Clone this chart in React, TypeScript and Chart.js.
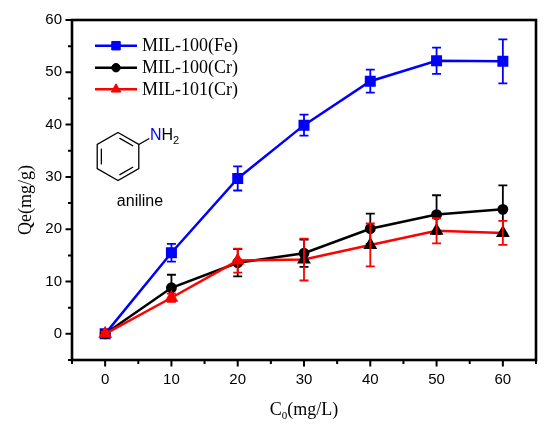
import React, { useEffect, useRef } from "react";
import { Chart, registerables } from "chart.js";
import { drawPoint } from "chart.js/helpers";

Chart.register(...registerables);

// concentrations (mg/L)
const concentrations = [0, 10, 20, 30, 40, 50, 60];

// adsorption capacities Qe (mg/g) and their error bars
const fe100 = [0, 15.5, 29.7, 39.9, 48.3, 52.2, 52.1];
const fe100Err = [0.4, 1.7, 2.3, 2.0, 2.2, 2.5, 4.2];
const cr100 = [0, 8.8, 13.6, 15.4, 20.1, 22.8, 23.8];
const cr100Err = [0.4, 2.5, 2.6, 2.6, 2.9, 3.7, 4.6];
const cr101 = [0, 6.9, 14.0, 14.2, 17.0, 19.7, 19.3];
const cr101Err = [0.4, 0.8, 2.3, 4.0, 4.1, 2.4, 2.3];

const seriesNames = ["MIL-100(Fe)", "MIL-100(Cr)", "MIL-101(Cr)"];

const SANS = "'Liberation Sans', Arial, sans-serif";
const SERIF = "'Liberation Serif', 'Times New Roman', serif";

const errorSets: number[][] = [fe100Err, cr100Err, cr101Err];

const errorBars = {
  id: "errorBars",
  afterDatasetDraw(chart: any, args: any) {
    const i = args.index;
    const errs = errorSets[i];
    if (!errs) return;
    const ds = chart.data.datasets[i];
    const { ctx, scales } = chart;
    ctx.save();
    ctx.strokeStyle = ds.borderColor;
    ctx.lineWidth = 1.8;
    ds.data.forEach((p: any, k: number) => {
      const x = scales.x.getPixelForValue(p.x);
      const yTop = scales.y.getPixelForValue(p.y + errs[k]);
      const yBot = scales.y.getPixelForValue(p.y - errs[k]);
      ctx.beginPath();
      ctx.moveTo(x, yTop);
      ctx.lineTo(x, yBot);
      ctx.moveTo(x - 4.5, yTop);
      ctx.lineTo(x + 4.5, yTop);
      ctx.moveTo(x - 4.5, yBot);
      ctx.lineTo(x + 4.5, yBot);
      ctx.stroke();
    });
    ctx.restore();
  },
};

const frameAndDecor = {
  id: "frameAndDecor",
  beforeDatasetsDraw(chart: any) {
    const { ctx, chartArea: a, scales } = chart;
    ctx.save();
    ctx.strokeStyle = "#000";
    ctx.lineWidth = 2.6;
    ctx.strokeRect(a.left, a.top, a.right - a.left, a.bottom - a.top);
    ctx.lineWidth = 2;
    ctx.beginPath();
    scales.x.ticks.forEach((t: any) => {
      const x = scales.x.getPixelForValue(t.value);
      const len = t.value % 10 === 0 ? 6.5 : 4;
      ctx.moveTo(x, a.bottom);
      ctx.lineTo(x, a.bottom + len);
    });
    scales.y.ticks.forEach((t: any) => {
      const y = scales.y.getPixelForValue(t.value);
      const len = t.value % 10 === 0 ? 6.5 : 4;
      ctx.moveTo(a.left, y);
      ctx.lineTo(a.left - len, y);
    });
    ctx.stroke();
    ctx.restore();
  },
  afterDraw(chart: any) {
    const { ctx, chartArea: a } = chart;
    ctx.save();
    ctx.fillStyle = "#000";

    // axis titles
    ctx.font = `18px ${SERIF}`;
    ctx.textBaseline = "alphabetic";
    const cx = (a.left + a.right) / 2;
    const wC = ctx.measureText("C").width;
    const wRest = ctx.measureText("(mg/L)").width;
    ctx.font = `11px ${SERIF}`;
    const w0 = ctx.measureText("0").width;
    const x0 = cx - (wC + w0 + wRest) / 2;
    ctx.font = `18px ${SERIF}`;
    ctx.textAlign = "left";
    ctx.fillText("C", x0, 415);
    ctx.font = `11px ${SERIF}`;
    ctx.fillText("0", x0 + wC, 419);
    ctx.font = `18px ${SERIF}`;
    ctx.fillText("(mg/L)", x0 + wC + w0, 415);

    ctx.save();
    ctx.translate(31, 200);
    ctx.rotate(-Math.PI / 2);
    ctx.textAlign = "center";
    ctx.fillText("Qe(mg/g)", 0, 0);
    ctx.restore();

    // legend
    const rows = [45.7, 67.7, 89.3];
    chart.data.datasets.forEach((ds: any, i: number) => {
      const y = rows[i];
      ctx.strokeStyle = ds.borderColor;
      ctx.fillStyle = ds.borderColor;
      ctx.lineWidth = 2.5;
      ctx.beginPath();
      ctx.moveTo(95, y);
      ctx.lineTo(137, y);
      ctx.stroke();
      ctx.lineWidth = 1;
      drawPoint(ctx, { pointStyle: ds.pointStyle, radius: ds.pointRadius, borderWidth: 1, rotation: 0 }, 116, y);
      ctx.fillStyle = "#000";
      ctx.font = `18px ${SERIF}`;
      ctx.textAlign = "left";
      ctx.textBaseline = "middle";
      ctx.fillText(seriesNames[i], 142, y + 1);
    });

    // aniline structure
    const hx = 118;
    const hy = 156.5;
    const r = 24;
    const v = [-90, -30, 30, 90, 150, 210].map((d) => {
      const rad = (d * Math.PI) / 180;
      return [hx + r * Math.cos(rad), hy + r * Math.sin(rad)];
    });
    ctx.strokeStyle = "#000";
    ctx.lineWidth = 1.3;
    ctx.beginPath();
    v.forEach((p, k) => (k === 0 ? ctx.moveTo(p[0], p[1]) : ctx.lineTo(p[0], p[1])));
    ctx.closePath();
    ctx.stroke();
    const inner = (p: number[], q: number[]) => {
      const mx = (p[0] + q[0]) / 2;
      const my = (p[1] + q[1]) / 2;
      const ix = hx + (mx - hx) * 0.8;
      const iy = hy + (my - hy) * 0.8;
      const dx = ((q[0] - p[0]) / 2) * 0.66;
      const dy = ((q[1] - p[1]) / 2) * 0.66;
      ctx.beginPath();
      ctx.moveTo(ix - dx, iy - dy);
      ctx.lineTo(ix + dx, iy + dy);
      ctx.stroke();
    };
    inner(v[0], v[1]);
    inner(v[2], v[3]);
    inner(v[4], v[5]);
    ctx.beginPath();
    ctx.moveTo(v[1][0], v[1][1]);
    ctx.lineTo(v[1][0] + 10.5, v[1][1] - 6);
    ctx.stroke();

    ctx.font = `16px ${SANS}`;
    ctx.textBaseline = "alphabetic";
    ctx.textAlign = "left";
    ctx.fillStyle = "#0000ff";
    ctx.fillText("N", 150, 140);
    const wN = ctx.measureText("N").width;
    ctx.fillStyle = "#000";
    ctx.fillText("H", 150 + wN, 140);
    const wH = ctx.measureText("H").width;
    ctx.font = `11px ${SANS}`;
    ctx.fillText("2", 150 + wN + wH, 144);

    ctx.font = `16px ${SANS}`;
    ctx.textAlign = "center";
    ctx.textBaseline = "middle";
    ctx.fillText("aniline", 140, 202);
    ctx.restore();
  },
};

const toPoints = (ys: number[]) => concentrations.map((x, i) => ({ x, y: ys[i] }));

const App: React.FC = () => {
  const canvasRef = useRef<HTMLCanvasElement | null>(null);

  useEffect(() => {
    document.body.style.margin = "0";
    if (!canvasRef.current) return;
    const ctx = canvasRef.current.getContext("2d");
    if (!ctx) return;

    const chart = new Chart(ctx, {
      type: "line",
      data: {
        datasets: [
          {
            label: seriesNames[0],
            data: toPoints(fe100),
            borderColor: "#0000ff",
            backgroundColor: "#0000ff",
            pointBackgroundColor: "#0000ff",
            pointBorderColor: "#0000ff",
            pointStyle: "rect",
            pointRadius: 6,
            borderWidth: 2.5,
            order: 2,
          },
          {
            label: seriesNames[1],
            data: toPoints(cr100),
            borderColor: "#000000",
            backgroundColor: "#000000",
            pointBackgroundColor: "#000000",
            pointBorderColor: "#000000",
            pointStyle: "circle",
            pointRadius: 4.2,
            borderWidth: 2.5,
            order: 1,
          },
          {
            label: seriesNames[2],
            data: toPoints(cr101),
            borderColor: "#ff0000",
            backgroundColor: "#ff0000",
            pointBackgroundColor: (c: any) => (c.dataIndex >= 3 ? "#000000" : "#ff0000"),
            pointBorderColor: (c: any) => (c.dataIndex >= 3 ? "#000000" : "#ff0000"),
            pointStyle: "triangle",
            pointRadius: 5.5,
            borderWidth: 2.5,
            order: 0,
          },
        ],
      },
      options: {
        responsive: false,
        animation: false,
        devicePixelRatio: 1,
        layout: { padding: { top: 20, right: 14, left: 0, bottom: 0 } },
        plugins: {
          legend: { display: false },
          tooltip: { enabled: false },
        },
        scales: {
          x: {
            type: "linear",
            min: -5,
            max: 65,
            grid: { display: false, drawTicks: false },
            border: { display: false },
            afterFit: (s: any) => {
              s.height = 72;
            },
            ticks: {
              stepSize: 5,
              autoSkip: false,
              maxRotation: 0,
              padding: 11,
              color: "#000",
              font: { family: SANS, size: 15 },
              callback: (v: any) => (v % 10 === 0 && v >= 0 && v <= 60 ? String(v) : ""),
            },
          },
          y: {
            type: "linear",
            min: -5,
            max: 60,
            grid: { display: false, drawTicks: false },
            border: { display: false },
            afterFit: (s: any) => {
              s.width = 72;
            },
            ticks: {
              stepSize: 5,
              autoSkip: false,
              padding: 10,
              color: "#000",
              font: { family: SANS, size: 15 },
              callback: (v: any) => (v % 10 === 0 && v >= 0 ? String(v) : ""),
            },
          },
        },
      },
      plugins: [frameAndDecor, errorBars],
    });

    return () => {
      chart.destroy();
    };
  }, []);

  return <canvas ref={canvasRef} width={550} height={432} style={{ display: "block" }}></canvas>;
};

export default App;
